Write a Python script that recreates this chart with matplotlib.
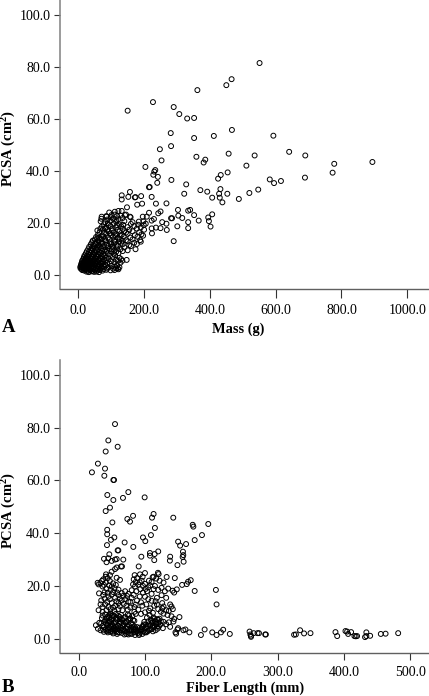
import numpy as np
import matplotlib
matplotlib.use('Agg')
import matplotlib.pyplot as plt

# values (x, PCSA)
a_sparse = [(150,63.1),(227,66.4),(362,71.0),(290,64.5),(307,61.8),(331,60.1),(352,60.3),(281,54.5),(352,52.6),(412,53.4),
(248,48.3),(282,49.5),(253,44.0),(359,45.4),(386,44.3),(381,43.2),(204,41.5),(234,40.3),(551,81.4),(466,75.2),(450,72.9),
(467,55.7),(593,53.5),(457,46.6),(536,45.9),(641,47.3),(690,45.9),(778,42.7),(894,43.4),(511,42.0),(454,39.4),(433,38.4),
(425,37.0),(582,36.7),(595,35.3),(616,36.1),(689,37.4),(773,39.3),(432,33.0),(428,31.2),(453,31.2),(430,29.7),(438,27.9),
(488,29.2),(520,31.5),(547,32.8),(231,39.7),(242,37.7),(240,35.4),(228,38.5),(283,36.5),(328,34.8),(215,33.7),(217,33.8),
(322,31.2),(371,32.6),(392,32.0),(407,29.7),(157,31.9),(132,30.6),(152,30.0),(132,29.0),(172,29.8),(174,29.9),(191,30.3),
(223,30.0),(179,27.0),(194,27.4),(236,27.4),(268,27.5),(148,26.0),(132,24.6),(111,24.3),(303,25.0),(334,24.7),(340,25.0),
(352,23.0),(407,23.3),(395,22.1),(304,22.8),(316,21.9),(366,20.9),(397,20.7),(334,20.3),(402,18.6),(301,18.7),(334,18.0),
(290,13.0),(282,21.8),(285,21.8),(268,19.7),(269,17.3),(250,24.4),(243,23.7),(215,23.9),(230,21.5),(223,20.9),(255,20.3),
(236,18.2),(250,18.0),(223,17.9),(224,16.0),(208,22.4),(196,22.4),(184,20.5),(199,19.2),(197,15.1),(142,23.0),(145,23.2),
(157,22.4),(159,22.2),(71,22.4),(86,22.4),(101,23.0),(116,21.0),(58,17.1),(174,9.9),(147,5.8),(134,5.5),(125,3.0),(120,2.6)]

a_mid = [(30,9.9),(37,9.6),(45,10.1),(53,9.7),(61,9.9),(70,10.2),(80,9.6),(95,10.0),(110,9.4),(128,9.9),(150,9.5),
(33,10.8),(41,10.4),(49,11.0),(57,10.6),(66,10.9),(76,11.1),(90,10.5),(104,10.8),(120,11.0),(140,10.6),(160,11.1),
(38,11.8),(46,11.4),(54,11.9),(63,11.5),(73,12.0),(86,11.6),(100,11.9),(116,11.4),(135,11.8),(155,11.5),(178,11.9),
(42,12.6),(52,12.3),(62,12.8),(72,12.4),(84,12.9),(98,12.5),(112,12.7),(130,12.4),(150,12.9),(170,12.4),(190,12.8),
(50,13.6),(60,13.3),(70,13.8),(82,13.4),(95,13.7),(110,13.3),(126,13.8),(145,13.4),(165,13.7),(188,13.4),
(54,14.6),(64,14.3),(76,14.8),(90,14.4),(105,14.7),(120,14.3),(138,14.8),(158,14.4),(180,14.7),
(60,15.5),(72,15.2),(85,15.8),(100,15.3),(116,15.7),(132,15.4),(150,15.8),(172,15.3),(192,15.6),
(65,16.5),(78,16.2),(92,16.8),(108,16.4),(125,16.7),(145,16.3),(165,16.8),(185,16.4),
(75,17.5),(88,17.2),(104,17.8),(120,17.3),(135,17.7),(155,17.4),(178,17.8),(200,17.4),
(72,18.6),(85,18.2),(98,18.8),(115,18.3),(130,18.7),(150,18.4),(170,18.8),(190,18.3),
(78,19.5),(92,19.2),(108,19.8),(125,19.4),(160,19.6),(182,19.3),(205,19.7),
(68,20.6),(82,20.3),(98,20.8),(115,20.4),(140,20.7),(165,20.3),(198,20.6),
(70,21.6),(88,21.3),(105,21.7),(122,21.4),(85,22.6),(100,22.2),(118,22.7),
(44,13.2),(58,14.2),(68,12.2),(80,13.9),(92,11.2),(108,12.1),(124,12.9),(134,13.1),(67,17.8),(82,17.9),(96,15.9),(112,15.2),(128,15.2),
(140,16.8),(102,17.1),(90,19.8),(118,19.1),(136,19.3),(128,22.8),(110,23.2),(94,24.0),(122,24.6),(135,21.9),(118,10.2),(102,9.9),(88,9.4)]

a_dense = [(25,1.3),(32,1.1),(40,1.4),(48,1.2),(55,1.3),(63,1.1),(12,1.9),(18,1.7),(24,2.0),(30,1.7),(37,1.9),(44,1.6),(51,2.0),
(58,1.8),(66,1.9),(74,1.7),(85,2.0),(98,1.8),(110,1.9),(7,2.5),(11,2.2),(16,2.6),(21,2.3),(27,2.5),(33,2.3),(39,2.6),(46,2.3),
(53,2.5),(60,2.2),(68,2.6),(77,2.3),(88,2.5),(106,2.4),(115,2.6),(122,2.2),(6,3.1),(10,2.9),(14,3.2),(19,2.9),(24,3.1),(29,2.9),
(35,3.2),(41,2.9),(47,3.1),(54,2.9),(61,3.2),(70,3.0),(79,3.1),(92,2.9),(112,3.2),(8,3.7),(12,3.5),(17,3.8),(22,3.5),(27,3.7),
(32,3.5),(38,3.8),(44,3.5),(50,3.7),(57,3.5),(65,3.8),(74,3.5),(84,3.7),(102,3.5),(118,3.8),(9,4.3),(14,4.1),(19,4.4),(25,4.1),
(30,4.3),(36,4.1),(42,4.4),(48,4.1),(55,4.3),(62,4.1),(70,4.4),(80,4.1),(96,4.3),(11,4.9),(16,4.7),(21,5.0),(27,4.7),(33,4.9),
(39,4.7),(45,5.0),(52,4.7),(59,4.9),(67,4.7),(76,5.0),(88,4.7),(110,4.9),(128,4.7),(12,5.5),(18,5.3),(24,5.6),(30,5.3),(36,5.5),
(43,5.3),(50,5.6),(57,5.3),(64,5.5),(72,5.3),(83,5.6),(100,5.3),(120,5.5),(15,6.1),(21,5.9),(27,6.2),(33,5.9),(40,6.1),(47,5.9),
(54,6.2),(61,5.9),(69,6.1),(78,5.9),(92,6.2),(115,5.9),(130,6.1),(17,6.8),(23,6.6),(29,6.9),(36,6.6),(43,6.8),(50,6.6),(57,6.9),
(65,6.6),(74,6.8),(86,6.6),(105,6.9),(125,6.6),(19,7.5),(26,7.3),(33,7.6),(40,7.3),(47,7.5),(54,7.3),(62,7.6),(70,7.3),(80,7.5),
(96,7.3),(112,7.6),(23,8.3),(30,8.1),(37,8.4),(44,8.1),(51,8.3),(59,8.1),(67,8.4),(76,8.1),(90,8.3),(108,8.1),(122,8.4),(26,9.1),
(33,8.9),(40,9.2),(48,8.9),(56,9.1),(64,8.9),(73,9.2),(84,8.9),(100,9.1),(115,8.9),(135,9.2)]

b_sparse = [(54.8,81.4),(44.7,75.2),(40.7,71.0),(58.8,72.8),(29,66.4),(39.7,64.5),(20,63.1),(38.7,61.8),(52.3,60.2),(53.3,60.2),
(43.2,54.5),(52.3,52.6),(74.9,55.6),(66.8,53.4),(99.5,53.6),(47.2,49.7),(40.7,48.4),(82,46.6),(73.4,45.4),(77.4,44.4),(50.8,44.1),
(113,47.3),(110.6,45.9),(142.7,45.9),(172,43.2),(195.5,43.5),(43,41.3),(43,39.6),(48.7,37.5),(53.8,38.4),(42.7,35.5),(69.3,36.5),
(58.8,33.5),(59.8,33.5),(82.4,34.8),(97,38.4),(100.5,37),(109,39.3),(115,42),(173,42.5),(150,36.8),(153,35.3),(162,35.9),(175,37.4),
(186,39.3),(46.2,32),(38.2,30.3),(44.7,30.5),(42,29),(49.7,29.5),(54.8,30),(57.3,30.2),(67.3,30),(94.5,31.1),(107.5,32.5),(114.6,32.1),
(120,33.1),(107.5,31.5),(114,29.8),(138,31.1),(137.6,29.6),(157.3,33),(157.8,31.7),(156.8,31),(158.3,29.2),(149,27.9),(90.5,27.4),
(63.8,27.4),(65.3,27.4),(57.3,27),(54.8,26.4),(49.7,25.4),(47.2,24.1),(41.2,24.4),(40.7,23.5),(62.3,22.3),(57.3,23.1),(84.4,24.1),
(92.5,24.4),(100,24.9),(96.5,23.5),(119.6,25),(120.6,24.5),(111.6,23.3),(113,23.5),(132.7,23.4),(145,23),(169,22.2),(165,21.6),
(163,20.7),(156,20.4),(175,18.1),(148,18.7),(141.7,18.2),(207,18.5),(208,13),(28.6,21.2),(30,20.6),(35,21.9),(30.7,17.2),
(208,1.4),(214.6,2.4),(218,3.4),(228,1.8),(257.8,2.7),(259,1.6),(259.8,1.1),(260,0.7),(264,2.1),(269.8,2.1),(272,2.1),(281.4,1.6),
(282.4,1.6),(325,1.5),(327.6,1.6),(334,3.2),(340,2),(349.7,2.1),(387.4,2.5),(390,1),(402.5,2.9),(405,2.7),(406.5,1.8),(411,2.5),
(416,1),(418,0.9),(420,1),(434,2.4),(434,1),(432,0.6),(439.7,1.1),(455.8,1.8),(463,1.9),(482,2.1),(147,1.9),(146,2.4),(149,3.5),
(158,3.2),(161,3.5),(167,2.4),(184.4,1.4),(190,3.5),(201.5,2.4)]

b_mid = [(37,22.5),(41,21.3),(46,20.2),(52,21.0),(56,20.4),(36,19.8),(42,19.0),(48,18.5),(54,19.2),(60,18.6),(33,13.0),(36,12.0),
(34,14.5),(39,15.2),(45,16.0),(50,16.8),(55,15.5),(60,16.5),(65,17.3),(70,18.0),(75,17.0),(80,18.4),(85,19.8),(83,22.5),(86,21.5),
(90,20.5),(95,22.0),(100,20.8),(105,19.5),(110,21.5),(115,20.0),(122,22.0),(128,21.3),(135,19.0),(130,18.0),(125,16.5),(118,15.5),
(110,17.0),(105,15.0),(97,17.5),(92,16.0),(88,14.5),(80,15.5),(75,14.0),(70,15.0),(65,14.5),(60,13.5),(55,12.5),(50,13.5),(45,12.0),
(40,13.0),(72,12.5),(78,11.8),(84,12.0),(90,11.0),(96,12.5),(102,13.0),(108,11.5),(114,12.5),(120,11.2),(126,11.5),(132,10.8),(138,13.0),
(140,12.2),(136,10.5),(142,11.2),(128,9.5),(134,9.0),(140,8.5),(144,7.5),(143,6.5),(136,6.2),(138,4.5),(132,5.5),(30,10.8),(36,10.2),
(42,10.8),(48,11.2),(54,10.5),(60,11.2),(66,10.8),(84,10.2),(100,10.0),(112,9.8),(124,10.2),(116,14.2),(126,13.5),(132,15.5),(144,17.5),
(120,18.5),(113,18.8),(103,18.0),(93,18.8),(67,16.2),(58,17.5),(47,15.0),(150,4.0),(152,8.2),
(33,21.0),(38,20.4),(44,23.0),(47,21.9),(50,19.8),(39,17.6),(44,17.4),(52,17.7),(57,14.2),(62,15.2),(68,13.2),(73,16.2),(78,14.0),(83,16.6),
(87,18.0),(82,20.6),(88,23.0),(92,21.4),(97,20.0),(101,18.9),(106,22.0),(108,20.2),(117,22.8),(125,19.3),(110,14.4),(100,15.9),(94,13.8),
(86,12.9),(74,11.0),(62,12.4),(52,11.8),(43,14.0),(37,16.6),(118,13.0),(128,12.2),(106,10.6)]

b_dense = [(26,5.1),(29,3.8),(31,6.0),(33,3.2),(35,7.8),(36,4.8),(38,2.6),(39,6.4),(40,9.2),(41,3.6),(42,7.6),(43,5.2),(44,2.4),(45,8.6),
(46,4.2),(47,6.6),(48,9.6),(49,3.0),(50,7.4),(51,5.0),(52,2.0),(53,8.4),(54,4.0),(55,6.2),(56,9.4),(57,2.8),(58,7.2),(59,5.0),(36,8.8),(34,5.8),
(38,4.4),(40,7.0),(42,2.9),(44,6.0),(46,8.0),(48,2.6),(50,5.6),(52,8.8),(54,3.0),(56,4.6),(58,3.6),(60,8.6),(61,2.4),(62,6.4),(63,4.4),
(64,9.0),(65,2.2),(66,7.2),(67,3.6),(68,5.6),(69,1.6),(70,8.2),(71,4.0),(72,6.6),(73,2.6),(74,9.2),(75,1.6),(76,5.0),(77,7.6),(78,3.2),
(79,6.0),(80,1.8),(81,8.6),(82,4.2),(83,2.6),(84,6.8),(85,1.4),(86,3.6),(88,4.4),(89,2.2),(90,3.2),(91,1.4),(92,4.2),(93,2.6),(94,9.4),
(95,3.6),(96,1.8),(97,4.8),(98,2.8),(99,6.4),(100,3.8),(101,5.4),(102,2.4),(103,8.0),(104,4.6),(105,6.6),(106,3.2),(107,9.0),(108,5.0),
(109,7.2),(110,3.6),(111,6.0),(112,2.8),(113,8.0),(114,4.4),(115,6.6),(116,3.2),(117,5.4),(118,7.4),(119,3.8),(120,6.0),(121,4.6),(122,7.6),
(123,5.4),(124,6.6),(127,4.0),(128,6.4),(66,4.8),(74,3.8),(70,2.8),(78,7.6),(62,8.2),(68,7.8),(76,8.8),(82,7.0),(84,4.6),(60,4.8),(64,6.0),
(72,1.8),(80,3.2),(86,9.4),(58,1.8),(52,3.6),(44,3.8),(48,5.0),(56,7.6),(50,8.8),(46,6.4),
(37,3.4),(41,5.8),(43,8.2),(45,3.2),(47,9.0),(49,6.2),(51,2.6),(53,5.8),(55,3.4),(57,8.0),(59,2.4),(61,5.6),(63,7.4),(65,3.2),(67,5.0),(69,3.0),
(71,6.0),(73,4.6),(75,7.0),(77,2.0),(79,4.2),(81,5.4),(83,3.6),(85,2.4),(87,3.0),(92,1.9),(94,3.2),(96,4.4),(98,5.4),(100,2.4),(102,4.4),
(104,2.8),(106,5.4),(108,3.6),(110,6.8),(112,4.8),(114,7.6),(116,5.6),(118,4.6),(120,7.2)]

xa, ya = zip(*(a_sparse + a_mid + a_dense))
xb, yb = zip(*(b_sparse + b_mid + b_dense))

plt.rcParams['font.family'] = ['Liberation Serif', 'DejaVu Serif']
plt.rcParams['mathtext.fontset'] = 'custom'
plt.rcParams['mathtext.bf'] = 'Liberation Serif:bold'

W, H = 429, 696
fig = plt.figure(figsize=(W / 100, H / 100), dpi=100)


def make_axes(left, top, right, bottom):
    return fig.add_axes([left / W, 1 - bottom / H, (right - left) / W, (bottom - top) / H])


def style(ax, x, y, xticks, xlabels, xlim, ylim, ticklen):
    ax.scatter(x, y, s=12.5, facecolors='none', edgecolors='#000000', linewidths=0.7, clip_on=False)
    ax.set_xlim(xlim)
    ax.set_ylim(ylim)
    ax.set_xticks(xticks)
    ax.set_xticklabels(xlabels)
    ax.set_yticks([0, 20, 40, 60, 80, 100])
    ax.set_yticklabels(['0.0', '20.0', '40.0', '60.0', '80.0', '100.0'])
    ax.tick_params(axis='x', length=ticklen, width=0.8, color='#333333', labelsize=10, pad=4)
    ax.tick_params(axis='y', length=4, width=0.8, color='#333333', labelsize=10, pad=3)
    ax.spines['top'].set_visible(False)
    ax.spines['right'].set_visible(False)
    ax.spines['left'].set_color('#808080')
    ax.spines['bottom'].set_color('#606060')
    ax.spines['left'].set_linewidth(1.1)
    ax.spines['bottom'].set_linewidth(1.0)


ax1 = make_axes(60, 0, 428, 289)
style(ax1, xa, ya, [0, 200, 400, 600, 800, 1000],
      ['0.0', '200.0', '400.0', '600.0', '800.0', '1000.0'], (-55.6, 1063), (-5.37, 105.6), 6.5)

ax2 = make_axes(60, 360, 428, 653.3)
style(ax2, xb, yb, [0, 100, 200, 300, 400, 500],
      ['0.0', '100.0', '200.0', '300.0', '400.0', '500.0'], (-28.2, 527), (-5.54, 105.7), 5)

ylabel = r'PCSA (cm$\mathbf{^2}$)'
fig.text(9 / W, 1 - 148 / H, ylabel, rotation=90, ha='center', va='center', fontsize=10.5, fontweight='bold')
fig.text(9 / W, 1 - 510 / H, ylabel, rotation=90, ha='center', va='center', fontsize=10.5, fontweight='bold')
fig.text(238 / W, 1 - 329 / H, 'Mass (g)', ha='center', va='center', fontsize=10.4, fontweight='bold')
fig.text(245 / W, 1 - 688 / H, 'Fiber Length (mm)', ha='center', va='center', fontsize=10.4, fontweight='bold')
fig.text(2 / W, 1 - 328 / H, 'A', ha='left', va='center', fontsize=13.5, fontweight='bold')
fig.text(2 / W, 1 - 687 / H, 'B', ha='left', va='center', fontsize=13.5, fontweight='bold')

fig.savefig('out.png', dpi=100)
